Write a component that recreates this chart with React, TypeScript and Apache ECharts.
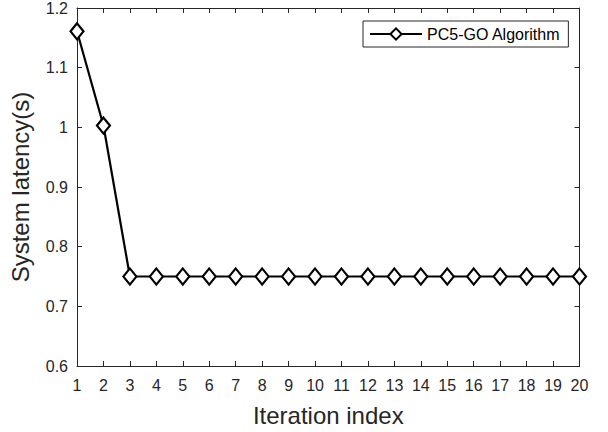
import React, { useEffect, useRef } from "react";
import * as echarts from "echarts";

const iterations = [1, 2, 3, 4, 5, 6, 7, 8, 9, 10, 11, 12, 13, 14, 15, 16, 17, 18, 19, 20];
const latency = [1.161, 1.003, 0.75, 0.75, 0.75, 0.75, 0.75, 0.75, 0.75, 0.75, 0.75, 0.75, 0.75, 0.75, 0.75, 0.75, 0.75, 0.75, 0.75, 0.75];
const seriesName = "PC5-GO Algorithm";
const xTitle = "Iteration index";
const yTitle = "System latency(s)";

const axisColor = "#262626";
const font = "Liberation Sans, Arial, Helvetica, sans-serif";

export default function App() {
  const ref = useRef<HTMLDivElement>(null);
  useEffect(() => {
    if (!ref.current) return;
    const chart = echarts.init(ref.current, undefined, { renderer: "svg" });
    const data = iterations.map((x, i) => [x, latency[i]]);
    const baseX = {
      type: "value" as const,
      min: 1,
      max: 20,
      interval: 1,
      splitLine: { show: false },
      axisLine: { show: true, lineStyle: { color: axisColor, width: 1 } },
      axisTick: { show: true, inside: true, length: 5, lineStyle: { color: axisColor } },
    };
    const baseY = {
      type: "value" as const,
      min: 0.6,
      max: 1.2,
      interval: 0.1,
      splitLine: { show: false },
      axisLine: { show: true, lineStyle: { color: axisColor, width: 1 } },
      axisTick: { show: true, inside: true, length: 5, lineStyle: { color: axisColor } },
    };
    chart.setOption({
      animation: false,
      backgroundColor: "#ffffff",
      textStyle: { fontFamily: font },
      grid: { left: 77, top: 7, right: 28.5, bottom: 66, containLabel: false },
      legend: {
        show: true,
        left: 363,
        top: 21,
        orient: "horizontal",
        itemWidth: 52,
        itemHeight: 14,
        itemGap: 6,
        padding: [5, 8, 5, 6],
        borderColor: axisColor,
        borderWidth: 1,
        backgroundColor: "#ffffff",
        textStyle: { fontSize: 16, color: "#000000", fontFamily: font },
        data: [seriesName],
      },
      xAxis: [
        {
          ...baseX,
          position: "bottom",
          axisLabel: { fontSize: 16, color: axisColor, margin: 11, fontFamily: font },
          name: xTitle,
          nameLocation: "middle",
          nameGap: 37,
          nameTextStyle: { fontSize: 24, color: axisColor, fontFamily: font },
        },
        {
          ...baseX,
          position: "top",
          axisLabel: { show: false },
        },
      ],
      yAxis: [
        {
          ...baseY,
          position: "left",
          axisLabel: {
            fontSize: 16,
            color: axisColor,
            margin: 9,
            fontFamily: font,
            formatter: (v: number) => String(+v.toFixed(1)),
          },
          name: yTitle,
          nameLocation: "middle",
          nameGap: 45,
          nameRotate: 90,
          nameTextStyle: { fontSize: 24, color: axisColor, fontFamily: font },
        },
        {
          ...baseY,
          position: "right",
          axisLabel: { show: false },
        },
      ],
      series: [
        {
          name: seriesName,
          type: "line",
          xAxisIndex: 0,
          yAxisIndex: 0,
          data,
          symbol: "diamond",
          symbolSize: [13, 16],
          showAllSymbol: true,
          lineStyle: { color: "#000000", width: 2.2 },
          itemStyle: { color: "#ffffff", borderColor: "#000000", borderWidth: 2.2 },
          z: 3,
        },
      ],
    });
    return () => chart.dispose();
  }, []);
  return (
    <div
      ref={ref}
      style={{ position: "fixed", left: 0, top: 0, width: 608, height: 432 }}
    />
  );
}
